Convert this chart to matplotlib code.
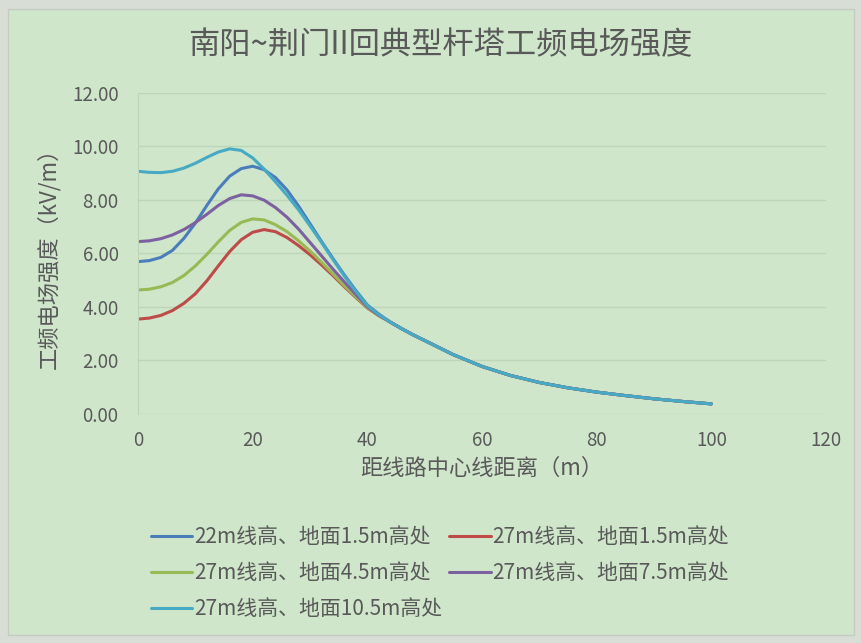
import matplotlib
matplotlib.use("Agg")
import matplotlib.pyplot as plt
from matplotlib.patches import Rectangle

plt.rcParams['font.family'] = ['Noto Sans CJK SC', 'DejaVu Sans']

# distance from line centre (m)
dist = [0, 2, 4, 6, 8, 10, 12, 14, 16, 18, 20, 22, 24, 26, 28, 30, 32, 34, 36, 38,
        40, 42, 44, 46, 48, 50, 55, 60, 65, 70, 75, 80, 85, 90, 95, 100]

# far field (44 m onwards) is the same for every case
tail = [3.42, 3.17, 2.94, 2.73, 2.20, 1.76, 1.42, 1.16, 0.96, 0.80, 0.67, 0.55, 0.45, 0.36]

# field strength (kV/m), 0-42 m
h22_15 = [5.68, 5.72, 5.84, 6.10, 6.55, 7.12, 7.78, 8.40, 8.88, 9.16, 9.25, 9.12, 8.82,
          8.36, 7.76, 7.10, 6.44, 5.80, 5.18, 4.60, 4.06, 3.72] + tail
h27_15 = [3.53, 3.57, 3.67, 3.85, 4.12, 4.48, 4.96, 5.52, 6.06, 6.50, 6.78, 6.88, 6.80,
          6.58, 6.28, 5.94, 5.56, 5.16, 4.74, 4.34, 3.95, 3.66] + tail
h27_45 = [4.62, 4.65, 4.74, 4.90, 5.16, 5.52, 5.95, 6.42, 6.85, 7.15, 7.28, 7.24, 7.06,
          6.80, 6.46, 6.08, 5.66, 5.22, 4.78, 4.37, 3.97, 3.67] + tail
h27_75 = [6.43, 6.46, 6.54, 6.68, 6.88, 7.14, 7.45, 7.78, 8.04, 8.18, 8.14, 7.98, 7.70,
          7.34, 6.90, 6.40, 5.90, 5.40, 4.92, 4.45, 4.00, 3.68] + tail
h27_105 = [9.06, 9.02, 9.01, 9.06, 9.18, 9.36, 9.58, 9.78, 9.90, 9.84, 9.56, 9.14, 8.66,
           8.16, 7.62, 7.02, 6.40, 5.76, 5.14, 4.56, 4.04, 3.70] + tail

labels = ['22m线高、地面1.5m高处', '27m线高、地面1.5m高处', '27m线高、地面4.5m高处',
          '27m线高、地面7.5m高处', '27m线高、地面10.5m高处']
colors = ['#4a7ebb', '#be4b48', '#98b954', '#7d60a0', '#46aac5']
series = [h22_15, h27_15, h27_45, h27_75, h27_105]

bg = '#cfe6cb'
txt = '#595959'

fig = plt.figure(figsize=(8.61, 6.43), dpi=100, facecolor='#d8ded5')
# chart area panel behind everything
fig.patches.append(Rectangle((8 / 861, 8 / 643), 846 / 861, 626 / 643,
                             transform=fig.transFigure, facecolor=bg,
                             edgecolor='#c4cbc1', lw=1, zorder=-10))

ax = fig.add_axes([138 / 861, (643 - 413.5) / 643, 688 / 861, 320.8 / 643])
ax.set_facecolor('none')
ax.set_zorder(2)

lines = []
for ys, c, lab in zip(series, colors, labels):
    ln, = ax.plot(dist, ys, color=c, lw=2.2, label=lab,
                  solid_capstyle='round', solid_joinstyle='round')
    lines.append(ln)

ax.set_xlim(0, 120)
ax.set_ylim(0, 12)
ax.set_xticks(range(0, 121, 20))
ax.set_yticks(range(0, 13, 2))
ax.set_yticklabels([f'{v:.2f}' for v in range(0, 13, 2)])
ax.yaxis.grid(True, color='#bcd6b8', lw=1.0)
ax.set_axisbelow(True)
for s in ['top', 'right', 'bottom']:
    ax.spines[s].set_visible(False)
ax.spines['left'].set_color('#bcd4b8')
ax.tick_params(length=0, labelsize=13.5, colors=txt)
ax.tick_params(axis='y', pad=14)
ax.tick_params(axis='x', pad=12)

ax.set_xlabel('距线路中心线距离（m）', fontsize=16, color=txt, labelpad=4)
ax.set_ylabel('工频电场强度（kV/m）', fontsize=16, color=txt, labelpad=8)

fig.text(0.511, 1 - 45 / 643, '南阳~荆门II回典型杆塔工频电场强度', ha='center', va='center',
         fontsize=22.5, color=txt)

# two-column legend filled row by row
order = [0, 2, 4, 1, 3]
fig.legend([lines[i] for i in order], [labels[i] for i in order], ncol=2,
           loc='center', bbox_to_anchor=(0.511, 1 - 573 / 643), frameon=False,
           fontsize=15, handlelength=2.0, handletextpad=0.1, columnspacing=0.3,
           labelspacing=0.68, labelcolor=txt)

fig.savefig('out.png', dpi=100, facecolor=fig.get_facecolor())
